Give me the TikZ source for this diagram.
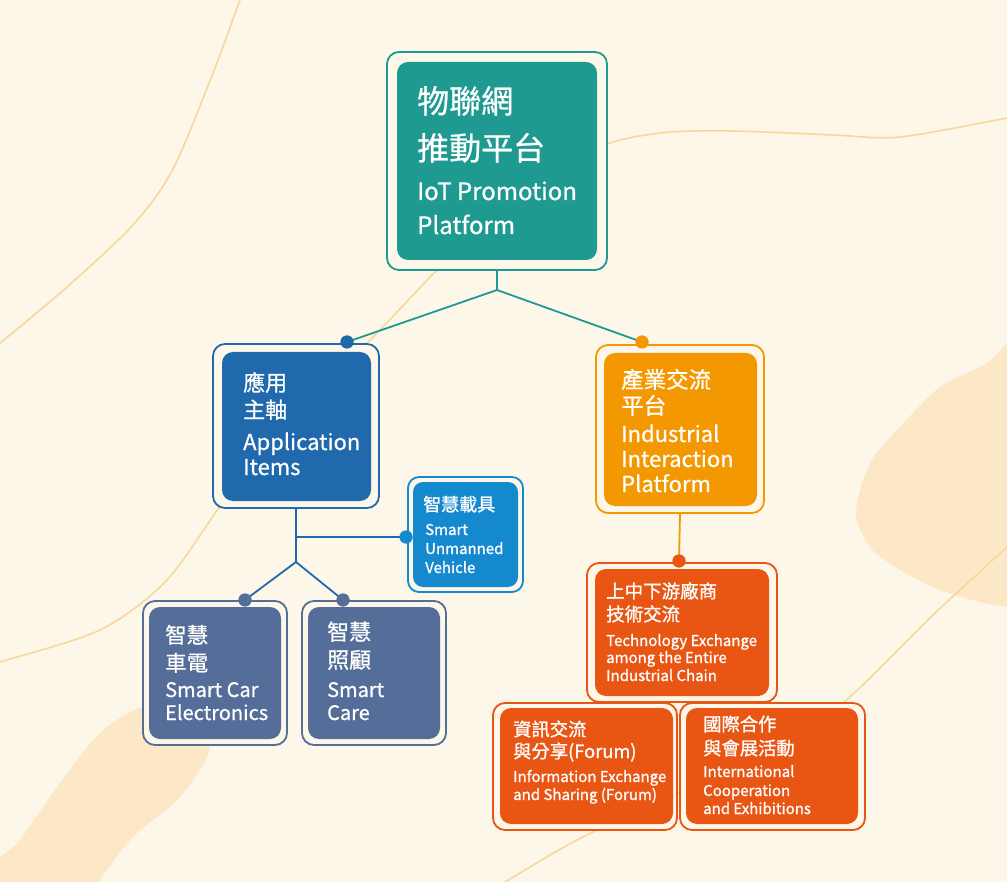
\documentclass[tikz,border=0pt]{standalone}
\usepackage{fontspec}
\setmainfont{Noto Sans CJK TC}
\newfontfamily\medfont[FakeBold=0.7]{Noto Sans CJK TC}
\newfontfamily\semifont[FakeBold=1.1]{Noto Sans CJK TC}
\definecolor{bg}{HTML}{FDF7EA}
\definecolor{blob}{HTML}{FCE8C6}
\definecolor{deco}{HTML}{F8D79C}
\definecolor{teal}{HTML}{1E9A91}
\definecolor{appblue}{HTML}{1F69AC}
\definecolor{skyblue}{HTML}{1589CE}
\definecolor{slate}{HTML}{546E99}
\definecolor{amber}{HTML}{F39800}
\definecolor{redor}{HTML}{E95513}
\tikzset{
  outerbox/.style={draw=#1, line width=1.8pt, fill=bg, rounded corners=12pt, inner sep=0pt},
  innerbox/.style={fill=#1, rounded corners=11pt, inner sep=0pt},
  dotnode/.style={circle, fill=#1, inner sep=0pt, minimum size=13pt},
  conn/.style={draw=#1, line width=1.8pt},
  zh/.style={anchor=base west, inner sep=0pt, text=white, font=\medfont\fontsize{#1}{#1}\selectfont},
  en/.style={anchor=base west, inner sep=0pt, text=white, font=\medfont\fontsize{#1}{#1}\selectfont},
  zhs/.style={anchor=base west, inner sep=0pt, text=white, font=\semifont\fontsize{#1}{#1}\selectfont},
  ens/.style={anchor=base west, inner sep=0pt, text=white, font=\semifont\fontsize{#1}{#1}\selectfont},
  decoline/.style={draw=deco, line width=1.6pt},
}
\begin{document}
\begin{tikzpicture}[x=1pt,y=-1pt]
% background
\fill[bg] (0,0) rectangle (1007,882);
\useasboundingbox (0,0) rectangle (1007,882);
\begin{scope}
\clip (0,0) rectangle (1007,882);
\fill[blob] plot[smooth] coordinates {(1020,330) (1007,343) (987,363) (940,387) (900,427) (870,463) (856,513) (870,547) (900,570) (940,590) (980,602) (1007,607) (1020,609)} -- (1030,609) -- (1030,330) -- cycle;
\fill[blob] plot[smooth] coordinates {(-10,870) (0,857) (20,840) (57,787) (100,733) (143,707) (185,712) (210,747) (180,797) (133,837) (100,880) (95,892)} -- (-10,892) -- cycle;
\draw[decoline] plot[smooth] coordinates {(245,-10) (240,0) (213,73) (173,169) (133,225) (67,287) (0,343) (-10,348)};
\draw[decoline] plot[smooth] coordinates {(-10,666) (0,662) (100,630) (167,580) (227,497) (300,412) (380,330) (450,257) (520,197) (597,148) (660,133) (733,131) (833,135) (900,137) (1007,118) (1017,116)};
\draw[decoline] plot[smooth] coordinates {(490,890) (500,885) (577,840) (680,792) (760,750) (838,707) (933,615) (1007,547) (1017,537)};
\end{scope}

% boxes
\node[outerbox=teal, minimum width=220pt, minimum height=218pt] (topO) at (497,161) {};
\node[innerbox=teal, minimum width=200pt, minimum height=198pt] (top) at (497,161) {};

\node[outerbox=appblue, minimum width=166pt, minimum height=164pt] (appO) at (296,426) {};
\node[innerbox=appblue, minimum width=149pt, minimum height=149pt] (app) at (296.5,426.5) {};

\node[outerbox=skyblue, minimum width=115pt, minimum height=115pt, rounded corners=11pt] (vehO) at (465.5,534.5) {};
\node[innerbox=skyblue, minimum width=105pt, minimum height=105pt, rounded corners=10pt] (veh) at (465.5,534.5) {};

\node[outerbox=slate, minimum width=144pt, minimum height=144pt] (carO) at (215,673) {};
\node[innerbox=slate, minimum width=132pt, minimum height=132pt] (car) at (215,673) {};

\node[outerbox=slate, minimum width=144pt, minimum height=144pt] (careO) at (374,673) {};
\node[innerbox=slate, minimum width=132pt, minimum height=132pt] (care) at (374,673) {};

\node[outerbox=amber, minimum width=168pt, minimum height=168pt] (indO) at (680,429) {};
\node[innerbox=amber, minimum width=153pt, minimum height=153pt] (ind) at (680.5,429.5) {};

\node[outerbox=redor, minimum width=190pt, minimum height=139pt] (techO) at (682,632.5) {};
\node[innerbox=redor, minimum width=174pt, minimum height=127pt] (tech) at (682,632.5) {};

\node[outerbox=redor, minimum width=184pt, minimum height=127pt] (infoO) at (585,766.5) {};
\node[innerbox=redor, minimum width=173pt, minimum height=116pt] (info) at (586.5,766) {};

\node[outerbox=redor, minimum width=185pt, minimum height=127pt] (intlO) at (772.5,766.5) {};
\node[innerbox=redor, minimum width=172pt, minimum height=116pt] (intl) at (772,766) {};

% connectors
\coordinate (j1) at (497,290);
\coordinate (j2) at (296,562);
\coordinate (j3) at (296,537);
\node[dotnode=appblue] (dApp) at (347,342) {};
\node[dotnode=amber] (dInd) at (642,342) {};
\node[dotnode=skyblue] (dVeh) at (406,537) {};
\node[dotnode=slate] (dCar) at (245,600) {};
\node[dotnode=slate] (dCare) at (343,600) {};
\node[dotnode=redor] (dTech) at (679,561) {};

\draw[conn=teal] (topO.south) -- (j1) -- (dApp.center);
\draw[conn=teal] (j1) -- (dInd.center);
\draw[conn=appblue] (appO.south) -- (j2) -- (dCar.center);
\draw[conn=appblue] (j2) -- (dCare.center);
\draw[conn=appblue] (j3) -- (dVeh.center);
\draw[conn=amber] (indO.south) -- (dTech.center);
% redraw dots on top
\fill[appblue] (dApp) circle (6.5pt);
\fill[amber] (dInd) circle (6.5pt);
\fill[skyblue] (dVeh) circle (6.5pt);
\fill[slate] (dCar) circle (6.5pt);
\fill[slate] (dCare) circle (6.5pt);
\fill[redor] (dTech) circle (6.5pt);

% texts: top
\node[zh=32] (top-z1) at (417,113) {物聯網};
\node[zh=32] (top-z2) at (417,160) {推動平台};
\node[en=24] (top-e1) at (417,200) {IoT Promotion};
\node[en=24] (top-e2) at (417,234) {Platform};
% app
\node[zh=22] (app-z1) at (243,391) {應用};
\node[zh=22] (app-z2) at (243,418) {主軸};
\node[en=22] (app-e1) at (243,450) {Application};
\node[en=22] (app-e2) at (243,475) {Items};
% vehicle
\node[zhs=18] (veh-z1) at (423,511) {智慧載具};
\node[ens=15] (veh-e1) at (425,535) {Smart};
\node[ens=15] (veh-e2) at (425,554) {Unmanned};
\node[ens=15] (veh-e3) at (425,573) {Vehicle};
% car
\node[zh=21.5] (car-z1) at (165,643) {智慧};
\node[zh=21.5] (car-z2) at (165,671) {車電};
\node[en=20] (car-e1) at (165,697) {Smart Car};
\node[en=20] (car-e2) at (165,720) {Electronics};
% care
\node[zh=22] (care-z1) at (327,640) {智慧};
\node[zh=22] (care-z2) at (327,668) {照顧};
\node[en=20] (care-e1) at (327,697) {Smart};
\node[en=20] (care-e2) at (327,720) {Care};
% industrial
\node[zh=22.5] (ind-z1) at (621,388) {產業交流};
\node[zh=22.5] (ind-z2) at (621,414) {平台};
\node[en=22] (ind-e1) at (621,442) {Industrial};
\node[en=22] (ind-e2) at (621,467) {Interaction};
\node[en=22] (ind-e3) at (621,492) {Platform};
% tech
\node[zhs=18.5] (tech-z1) at (606,598) {上中下游廠商};
\node[zhs=18.5] (tech-z2) at (606,621) {技術交流};
\node[ens=15] (tech-e1) at (606,646) {Technology Exchange};
\node[ens=15] (tech-e2) at (606,663) {among the Entire};
\node[ens=15] (tech-e3) at (606,681) {Industrial Chain};
% info
\node[zhs=18.3] (info-z1) at (513,736) {資訊交流};
\node[zhs=18.3] (info-z2) at (513,758) {與分享(Forum)};
\node[ens=15] (info-e1) at (513,782) {Information Exchange};
\node[ens=15] (info-e2) at (513,800) {and Sharing (Forum)};
% intl
\node[zhs=18.3] (intl-z1) at (703,731) {國際合作};
\node[zhs=18.3] (intl-z2) at (703,755) {與會展活動};
\node[ens=15] (intl-e1) at (703,777) {International};
\node[ens=15] (intl-e2) at (703,796) {Cooperation};
\node[ens=15] (intl-e3) at (703,814) {and Exhibitions};
\end{tikzpicture}
\end{document}
